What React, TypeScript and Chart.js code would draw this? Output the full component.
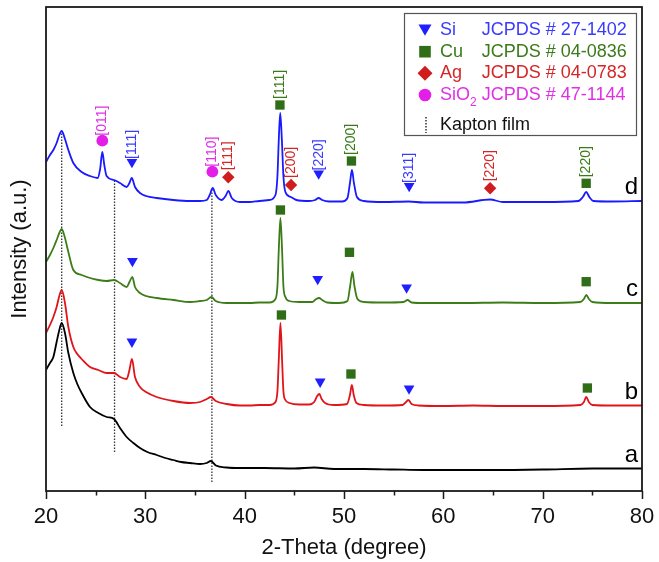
import { useEffect, useRef } from 'react';
import { Chart, registerables } from 'chart.js';

Chart.register(...registerables);

const FONT = '"Liberation Sans", Arial, sans-serif';

// x axis (2-Theta, degree)
const xTicks = [20, 30, 40, 50, 60, 70, 80];
const xMinorTicks = [25, 35, 45, 55, 65, 75];

// Intensity (a.u.), already stacked
const curveA: [number, number][] = [
  [20, 121], [20.4, 128], [20.74, 134], [21.07, 149], [21.34, 161], [21.58, 168], [21.91, 158], [22.25, 138],
  [22.75, 118], [23.15, 107], [23.59, 98], [24.43, 84], [25.27, 78], [26.11, 74], [26.85, 72], [27.45, 63],
  [28.12, 54], [28.8, 48], [29.46, 43], [30.2, 39], [31.14, 36], [32, 33], [32.82, 31], [33.6, 29], [34.5, 28],
  [35.51, 27], [36.18, 28], [36.6, 30], [37.1, 25.5], [38.19, 23.5], [39.53, 23], [42, 23], [45, 22.5], [47, 23.5],
  [49, 22], [52, 22], [55, 21.5], [58, 21], [61, 21], [65, 21], [70, 21.5], [75, 22.5], [80, 22.5],
];
const curveB: [number, number][] = [
  [20, 158], [20.4, 166], [20.74, 174], [21.07, 184], [21.34, 195], [21.58, 201], [21.91, 188], [22.25, 164],
  [22.75, 144], [23.15, 137], [23.59, 132], [24.43, 124], [25.27, 121], [26.11, 118], [26.85, 118], [27.45, 114],
  [28.12, 112], [28.4, 121], [28.65, 132], [28.96, 114], [29.46, 104], [30.07, 99], [31.14, 94], [32.82, 90],
  [34.5, 88], [35.51, 89], [36.18, 92], [36.6, 94], [37.09, 90], [38.19, 87], [39.53, 85.5], [40.5, 85.5],
  [41.5, 86], [42.5, 86], [43.1, 89], [43.3, 100], [43.43, 130], [43.6, 168], [43.77, 130], [43.9, 100],
  [44.1, 91], [44.5, 88], [45.5, 86.5], [46.5, 86.5], [47.0, 89], [47.3, 95], [47.52, 97], [47.75, 92],
  [48.1, 88], [49, 86], [50.3, 87], [50.6, 96], [50.79, 106], [50.98, 96], [51.25, 88], [52, 86], [54, 85.5],
  [55.9, 86], [56.25, 89], [56.49, 91], [56.8, 87], [57.5, 85.5], [60, 85], [63, 85.5], [66, 85], [70, 85],
  [73.8, 86], [74.15, 89], [74.38, 94], [74.65, 89], [75.0, 86], [77, 85.5], [80, 85.5],
];
const curveC: [number, number][] = [
  [20, 229], [20.4, 236], [20.74, 243], [21.07, 251], [21.34, 258], [21.58, 262], [21.91, 253], [22.25, 239],
  [22.75, 221], [23.59, 216], [24.43, 213], [25.27, 211], [26.11, 210], [26.85, 211], [27.45, 208], [28.12, 204],
  [28.4, 209], [28.69, 214], [28.96, 204], [29.46, 198], [30.07, 195], [31.14, 193], [32.82, 191], [34.5, 189],
  [35.51, 190], [36.18, 191], [36.65, 194], [37.09, 190], [38.19, 188], [39.53, 188], [40.5, 188], [41.5, 188.5],
  [42.5, 188.5], [43.1, 192], [43.3, 205], [43.43, 240], [43.6, 273], [43.77, 240], [43.9, 205], [44.1, 194],
  [44.5, 190], [45.5, 189], [46.8, 189], [47.2, 192], [47.5, 193], [47.8, 191], [48.3, 188.5], [49.5, 188],
  [50.35, 190], [50.62, 205], [50.85, 219], [51.05, 205], [51.35, 192], [52, 189], [54, 188.5], [56, 189],
  [56.4, 191], [56.8, 188.5], [58, 188], [62, 188], [66, 188.5], [70, 188], [73.8, 189], [74.15, 192],
  [74.4, 196], [74.65, 192], [75, 189], [77, 188], [80, 188],
];
const curveD: [number, number][] = [
  [20, 329], [20.4, 336], [20.74, 341], [21.07, 348], [21.34, 356], [21.58, 360], [21.91, 352], [22.25, 341],
  [22.75, 328], [23.59, 319], [24.43, 315], [25.2, 313], [25.45, 322], [25.67, 339], [25.87, 326], [26.1, 315],
  [26.85, 311], [27.45, 308], [28.12, 304], [28.4, 308], [28.63, 313], [28.96, 304], [29.46, 298], [30.07, 295],
  [31.14, 293], [32.82, 291], [34.5, 290], [35.51, 290], [36.18, 291], [36.48, 296], [36.78, 303], [37.09, 296],
  [37.69, 291], [38.08, 295], [38.36, 300], [38.7, 293], [39.53, 289], [40.5, 289], [41.5, 290], [42.5, 291],
  [43.1, 296], [43.3, 315], [43.43, 350], [43.58, 378], [43.75, 350], [43.9, 315], [44.1, 299], [44.65, 294],
  [45.2, 291], [46.5, 290], [47.1, 291], [47.45, 293], [47.8, 291], [48.5, 289.5], [49.8, 289.5], [50.35, 293],
  [50.6, 308], [50.8, 321], [51.0, 308], [51.3, 294], [52, 290], [54, 289], [56.5, 289.5], [58, 288.5],
  [62, 288.5], [64.7, 291.5], [66, 289], [70, 289], [73.6, 290], [74.05, 294], [74.38, 299], [74.7, 294],
  [75.1, 290], [77, 289.5], [80, 290],
];
const curveNames = ['a', 'b', 'c', 'd'];

// Kapton film reference lines
const kaptonX = [21.58, 26.9, 36.7];
const kaptonTop = [360, 311, 303];
const kaptonBottom = [65, 39, 9];

// peak markers on curve d (with Miller indices)
const siD: [number, number][] = [[28.65, 329], [47.45, 317.5], [56.56, 305]];
const siLabelsD = ['[111]', '[220]', '[311]'];
const cuD: [number, number][] = [[43.55, 386], [50.75, 330], [74.38, 307.7]];
const cuLabelsD = ['[111]', '[200]', '[220]'];
const agD: [number, number][] = [[38.35, 313.7], [44.67, 306], [64.71, 302.7]];
const agLabelsD = ['[111]', '[200]', '[220]'];
const sio2D: [number, number][] = [[25.67, 350.3], [36.75, 319.3]];
const sio2LabelsD = ['[011]', '[110]'];

// peak markers on curve c
const siC: [number, number][] = [[28.7, 230], [47.35, 212], [56.3, 203.5]];
const cuC: [number, number][] = [[43.6, 281], [50.55, 238.7], [74.38, 209.3]];
// peak markers on curve b
const siB: [number, number][] = [[28.65, 149.3], [47.6, 109.3], [56.55, 102.5]];
const cuB: [number, number][] = [[43.7, 176], [50.7, 117], [74.5, 103]];

// legend
const legendPhases = ['Si', 'Cu', 'Ag', 'SiO2'];
const legendCards = ['JCPDS # 27-1402', 'JCPDS # 04-0836', 'JCPDS # 04-0783', 'JCPDS # 47-1144'];
const legendKapton = 'Kapton film';

const C_BLUE = '#1a1aff';
const C_GREEN = '#3c7d18';
const C_RED = '#e01419';
const C_BLACK = '#000000';
const M_SI = '#1e1eff';
const M_CU = '#2f6e16';
const M_AG = '#d01c1c';
const M_SIO2 = '#e31ee8';
const T_SI = '#3a3aff';
const T_CU = '#3a7a18';
const T_AG = '#d42626';
const T_SIO2 = '#e030e6';

const pts = (arr: [number, number][]) => arr.map(([x, y]) => ({ x, y }));

function drawShape(ctx: CanvasRenderingContext2D, kind: string, x: number, y: number, s: number, color: string) {
  ctx.fillStyle = color;
  ctx.beginPath();
  if (kind === 'triangle') {
    ctx.moveTo(x - s * 0.866, y - s * 0.5);
    ctx.lineTo(x + s * 0.866, y - s * 0.5);
    ctx.lineTo(x, y + s);
    ctx.closePath();
  } else if (kind === 'rect') {
    ctx.rect(x - s, y - s, 2 * s, 2 * s);
  } else if (kind === 'diamond') {
    ctx.moveTo(x - s, y);
    ctx.lineTo(x, y - s);
    ctx.lineTo(x + s, y);
    ctx.lineTo(x, y + s);
    ctx.closePath();
  } else {
    ctx.arc(x, y, s, 0, Math.PI * 2);
  }
  ctx.fill();
}

const framePlugin = {
  id: 'frame',
  afterDraw(chart: any) {
    const { ctx, chartArea: ca, scales } = chart;
    ctx.save();
    ctx.strokeStyle = '#1a1a1a';
    ctx.lineWidth = 1.8;
    ctx.strokeRect(ca.left, ca.top, ca.right - ca.left, ca.bottom - ca.top);
    ctx.lineWidth = 1.5;
    ctx.beginPath();
    xTicks.forEach((v) => {
      const px = Math.round(scales.x.getPixelForValue(v)) + 0.5;
      ctx.moveTo(px, ca.bottom);
      ctx.lineTo(px, ca.bottom + 8);
    });
    xMinorTicks.forEach((v) => {
      const px = Math.round(scales.x.getPixelForValue(v)) + 0.5;
      ctx.moveTo(px, ca.bottom);
      ctx.lineTo(px, ca.bottom + 4.5);
    });
    ctx.stroke();
    ctx.restore();
  },
};

const labelPlugin = {
  id: 'peakLabels',
  afterDatasetsDraw(chart: any) {
    const { ctx, chartArea: ca } = chart;
    ctx.save();
    chart.data.datasets.forEach((ds: any, i: number) => {
      const meta = chart.getDatasetMeta(i);
      if (ds.peakLabels) {
        ctx.font = `14px ${FONT}`;
        ctx.fillStyle = ds.labelColor;
        ctx.textAlign = 'left';
        ctx.textBaseline = 'middle';
        meta.data.forEach((pt: any, j: number) => {
          const t = ds.peakLabels[j];
          if (!t) return;
          ctx.save();
          ctx.translate(pt.x, pt.y - ds.labelGap);
          ctx.rotate(-Math.PI / 2);
          ctx.fillText(t, 0, 0);
          ctx.restore();
        });
      }
      if (ds.curveLabel) {
        const last = meta.data[meta.data.length - 1];
        ctx.font = `24px ${FONT}`;
        ctx.fillStyle = '#000';
        ctx.textAlign = 'right';
        ctx.textBaseline = 'alphabetic';
        ctx.fillText(ds.curveLabel, ca.right - 4, last.y - 7);
      }
    });
    ctx.restore();
  },
};

const legendPlugin = {
  id: 'phaseLegend',
  afterDraw(chart: any) {
    const { ctx, chartArea: ca } = chart;
    const x0 = ca.right - 238;
    const y0 = ca.top + 6;
    ctx.save();
    ctx.fillStyle = '#fff';
    ctx.fillRect(x0, y0, 232, 122);
    ctx.strokeStyle = '#555';
    ctx.lineWidth = 1.2;
    ctx.strokeRect(x0 + 0.5, y0 + 0.5, 232, 122);
    const rowY = [17, 38.7, 60.3, 82];
    const shapes = ['triangle', 'rect', 'diamond', 'circle'];
    const sizes = [7.5, 5.8, 7.5, 6.3];
    const mcol = [M_SI, M_CU, M_AG, M_SIO2];
    const tcol = [T_SI, T_CU, T_AG, T_SIO2];
    ctx.textBaseline = 'middle';
    ctx.textAlign = 'left';
    legendPhases.forEach((name, i) => {
      const cy = y0 + rowY[i];
      const my = shapes[i] === 'triangle' ? cy - sizes[i] / 4 : cy;
      drawShape(ctx, shapes[i], x0 + 21, my, sizes[i], mcol[i]);
      ctx.fillStyle = tcol[i];
      ctx.font = `18px ${FONT}`;
      const m = name.match(/^(.*?)(\d+)$/);
      if (m) {
        ctx.fillText(m[1], x0 + 36, cy);
        const w = ctx.measureText(m[1]).width;
        ctx.font = `12px ${FONT}`;
        ctx.fillText(m[2], x0 + 36 + w, cy + 8);
        ctx.font = `18px ${FONT}`;
      } else {
        ctx.fillText(name, x0 + 36, cy);
      }
      ctx.fillText(legendCards[i], x0 + 77.7, cy);
    });
    const ky = y0 + 112;
    ctx.strokeStyle = '#222';
    ctx.lineWidth = 1.4;
    ctx.setLineDash([1.5, 1.5]);
    ctx.beginPath();
    ctx.moveTo(x0 + 22, ky - 8);
    ctx.lineTo(x0 + 22, ky + 8);
    ctx.stroke();
    ctx.setLineDash([]);
    ctx.fillStyle = '#111';
    ctx.font = `18px ${FONT}`;
    ctx.fillText(legendKapton, x0 + 36, ky);
    ctx.restore();
  },
};

export default function App() {
  const ref = useRef<HTMLCanvasElement | null>(null);
  useEffect(() => {
    document.body.style.margin = '0';
    const canvas = ref.current;
    if (!canvas) return;
    Chart.defaults.font.family = FONT;

    const markerSet = (data: [number, number][], style: string, radius: number, color: string, rot = 0, labels?: string[], labelColor?: string, labelGap = 6) => ({
      type: 'line',
      data: pts(data),
      showLine: false,
      pointStyle: style,
      pointRadius: radius,
      pointRotation: rot,
      pointBackgroundColor: color,
      pointBorderWidth: 0,
      borderWidth: 0,
      peakLabels: labels,
      labelColor,
      labelGap,
    });
    const curveSet = (data: [number, number][], color: string, name: string) => ({
      type: 'line',
      data: pts(data),
      borderColor: color,
      borderWidth: 1.8,
      pointRadius: 0,
      cubicInterpolationMode: 'monotone',
      fill: false,
      curveLabel: name,
    });
    const kaptonSets = kaptonX.map((x, i) => ({
      type: 'line',
      data: [{ x, y: kaptonBottom[i] }, { x, y: kaptonTop[i] }],
      borderColor: '#333',
      borderWidth: 1.3,
      borderDash: [1.5, 1.5],
      pointRadius: 0,
      fill: false,
    }));

    const chart = new Chart(canvas, {
      type: 'line',
      data: {
        datasets: [
          markerSet(siD, 'triangle', 6.2, M_SI, 180, siLabelsD, T_SI, 3),
          markerSet(cuD, 'rect', 6.6, M_CU, 0, cuLabelsD, T_CU, 6),
          markerSet(agD, 'rectRot', 6.2, M_AG, 0, agLabelsD, T_AG, 7),
          markerSet(sio2D, 'circle', 5.9, M_SIO2, 0, sio2LabelsD, T_SIO2, 5),
          markerSet(siC, 'triangle', 6.2, M_SI, 180),
          markerSet(cuC, 'rect', 6.6, M_CU),
          markerSet(siB, 'triangle', 6.2, M_SI, 180),
          markerSet(cuB, 'rect', 6.6, M_CU),
          curveSet(curveD, C_BLUE, curveNames[3]),
          curveSet(curveC, C_GREEN, curveNames[2]),
          curveSet(curveB, C_RED, curveNames[1]),
          curveSet(curveA, C_BLACK, curveNames[0]),
          ...kaptonSets,
        ] as any,
      },
      options: {
        animation: false,
        responsive: false,
        devicePixelRatio: 1,
        layout: { padding: { top: 7, right: 17, left: 0, bottom: 0 } },
        plugins: { legend: { display: false }, tooltip: { enabled: false } },
        scales: {
          x: {
            type: 'linear',
            min: 20,
            max: 80,
            afterBuildTicks: (s: any) => { s.ticks = xTicks.map((v) => ({ value: v })); },
            ticks: { padding: 3, font: { size: 22, family: FONT }, color: '#111', maxRotation: 0, autoSkip: false },
            grid: { display: true, drawOnChartArea: false, drawTicks: true, tickLength: 10, tickColor: 'rgba(0,0,0,0)', color: 'rgba(0,0,0,0)' },
            border: { display: false },
            title: { display: true, text: '2-Theta (degree)', font: { size: 22, family: FONT }, color: '#111', padding: { top: 0, bottom: 1 } },
            afterFit: (s: any) => { s.height = 71; },
          },
          y: {
            type: 'linear',
            min: 0,
            max: 484,
            ticks: { display: false },
            grid: { display: false, drawTicks: false },
            border: { display: false },
            title: { display: true, text: 'Intensity (a.u.)', font: { size: 22, family: FONT }, color: '#111', padding: { top: 7, bottom: 0 } },
            afterFit: (s: any) => { s.width = 46; },
          },
        },
      } as any,
      plugins: [framePlugin, labelPlugin, legendPlugin],
    });
    return () => chart.destroy();
  }, []);
  return (
    <div style={{ width: 659, height: 562 }}>
      <canvas ref={ref} width={659} height={562} style={{ display: 'block' }} />
    </div>
  );
}
